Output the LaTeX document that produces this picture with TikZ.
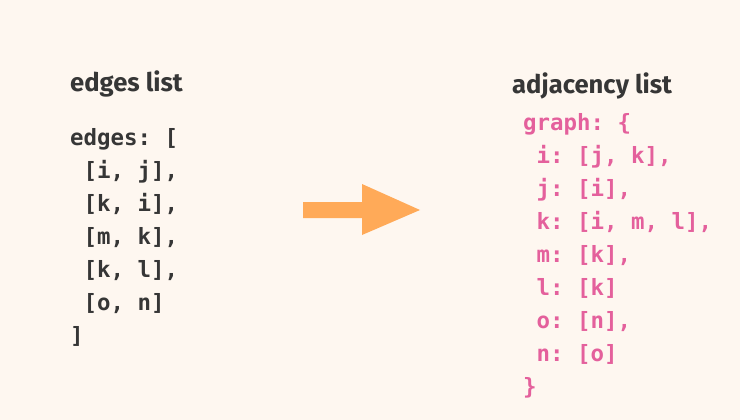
\documentclass[tikz,border=0pt]{standalone}
\usepackage{fontspec}
\setsansfont{Fira Sans}
\setmonofont{DejaVu Sans Mono}
\definecolor{paper}{HTML}{FEF7F0}
\definecolor{ink}{HTML}{363636}
\definecolor{pinkcode}{HTML}{E4609C}
\definecolor{arroworange}{HTML}{FFAA58}
\tikzset{
  heading/.style={inner sep=0pt,anchor=base west,text=ink,
    font=\sffamily\bfseries\fontsize{25.6}{30}\selectfont},
  codeblock/.style={inner sep=0pt,anchor=north west,align=left,
    font=\ttfamily\bfseries\fontsize{22.4}{33}\selectfont}
}
\begin{document}
\begin{tikzpicture}[x=1pt,y=-1pt]
    \fill[paper] (0,0) rectangle (740,420);
    \useasboundingbox (0,0) rectangle (740,420);
    \node[heading] (edgeshead) at (70,92) {edges list};
    \node[heading] (adjhead) at (512,94) {adjacency list};
    \node[codeblock,text=ink] (edges) at (70,128) {edges: [\\
 \ [i, j],\\
 \ [k, i],\\
 \ [m, k],\\
 \ [k, l],\\
 \ [o, n]\\
]};
    \node[codeblock,text=pinkcode] (adj) at (523,113) {graph: \{\\
 \ i: [j, k],\\
 \ j: [i],\\
 \ k: [i, m, l],\\
 \ m: [k],\\
 \ l: [k]\\
 \ o: [n],\\
 \ n: [o]\\
\}};
    \fill[arroworange] (303,202) -- (362,202) -- (362,184) -- (420,210)
        -- (362,235) -- (362,218) -- (303,218) -- cycle;
\end{tikzpicture}
\end{document}
